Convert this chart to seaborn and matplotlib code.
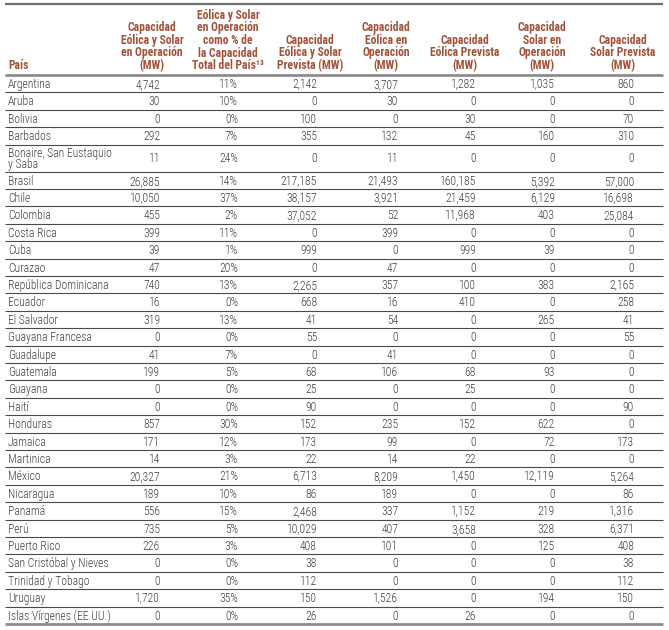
import matplotlib
matplotlib.use("Agg")
import matplotlib.pyplot as plt
from matplotlib import font_manager
import seaborn as sns
import pandas as pd

paises = ["Argentina", "Aruba", "Bolivia", "Barbados", "Bonaire, San Eustaquio\ny Saba",
          "Brasil", "Chile", "Colombia", "Costa Rica", "Cuba", "Curazao",
          "República Dominicana", "Ecuador", "El Salvador", "Guayana Francesa",
          "Guadalupe", "Guatemala", "Guayana", "Haití", "Honduras", "Jamaica",
          "Martinica", "México", "Nicaragua", "Panamá", "Perú", "Puerto Rico",
          "San Cristóbal y Nieves", "Trinidad y Tobago", "Uruguay",
          "Islas Vírgenes (EE.UU.)"]
eol_sol_op = [4742, 30, 0, 292, 11, 26885, 10050, 455, 399, 39, 47, 740, 16, 319, 0,
              41, 199, 0, 0, 857, 171, 14, 20327, 189, 556, 735, 226, 0, 0, 1720, 0]
pct_total = [11, 10, 0, 7, 24, 14, 37, 2, 11, 1, 20, 13, 0, 13, 0,
             7, 5, 0, 0, 30, 12, 3, 21, 10, 15, 5, 3, 0, 0, 35, 0]
eol_sol_prev = [2142, 0, 100, 355, 0, 217185, 38157, 37052, 0, 999, 0, 2265, 668, 41, 55,
                0, 68, 25, 90, 152, 173, 22, 6713, 86, 2468, 10029, 408, 38, 112, 150, 26]
eol_op = [3707, 30, 0, 132, 11, 21493, 3921, 52, 399, 0, 47, 357, 16, 54, 0,
          41, 106, 0, 0, 235, 99, 14, 8209, 189, 337, 407, 101, 0, 0, 1526, 0]
eol_prev = [1282, 0, 30, 45, 0, 160185, 21459, 11968, 0, 999, 0, 100, 410, 0, 0,
            0, 68, 25, 0, 152, 0, 22, 1450, 0, 1152, 3658, 0, 0, 0, 0, 26]
sol_op = [1035, 0, 0, 160, 0, 5392, 6129, 403, 0, 39, 0, 383, 0, 265, 0,
          0, 93, 0, 0, 622, 72, 0, 12119, 0, 219, 328, 125, 0, 0, 194, 0]
sol_prev = [860, 0, 70, 310, 0, 57000, 16698, 25084, 0, 0, 0, 2165, 258, 41, 55,
            0, 0, 0, 90, 0, 173, 0, 5264, 86, 1316, 6371, 408, 38, 112, 150, 0]

encabezados = ["Capacidad\nEólica y Solar\nen Operación\n(MW)",
               "Eólica y Solar\nen Operación\ncomo % de\nla Capacidad\nTotal del País¹³",
               "Capacidad\nEólica y Solar\nPrevista (MW)",
               "Capacidad\nEólica en\nOperación\n(MW)",
               "Capacidad\nEólica Prevista\n(MW)",
               "Capacidad\nSolar en\nOperación\n(MW)",
               "Capacidad\nSolar Prevista\n(MW)"]

df = pd.DataFrame({"pais": paises, "c1": eol_sol_op, "c2": pct_total, "c3": eol_sol_prev,
                   "c4": eol_op, "c5": eol_prev, "c6": sol_op, "c7": sol_prev})

sns.set_theme(style="white")
disponibles = {f.name for f in font_manager.fontManager.ttflist}
fuente = "DejaVu Sans"
for cand in ["Roboto Condensed", "Liberation Sans Narrow", "Open Sans Condensed", "Roboto"]:
    if cand in disponibles:
        fuente = cand
        break
plt.rcParams["font.family"] = [fuente, "DejaVu Sans"]
tam = 8.4 if "Condensed" in fuente or "Narrow" in fuente else 7.0

rojo = "#a4533b"
gris_texto = "#404040"

# layout (pixels)
x_izq, x_der = 5, 663
x_num = [160, 238, 317, 398, 476, 555, 634]
x_enc = [152, 228, 310, 386, 465, 542, 623]
alto = [27 if "\n" in p else 17.4 for p in paises]

fig = plt.figure(figsize=(6.69, 6.30), dpi=100)
ax = fig.add_axes([0, 0, 1, 1])
ax.set_xlim(0, 669)
ax.set_ylim(630, 0)
ax.axis("off")

# header
ax.text(8, 72, "País", ha="left", va="bottom", fontsize=tam, color=rojo, fontweight="bold")
for xe, t in zip(x_enc, encabezados):
    ax.text(xe, 72, t, ha="center", va="bottom", fontsize=tam, color=rojo,
            fontweight="bold", multialignment="center", linespacing=0.95)

ax.hlines(3.5, x_izq, x_der, color="#707070", lw=1.6)
ax.hlines(75, x_izq, x_der, color="#8c8c8c", lw=2)

y = 75
cols = ["c1", "c2", "c3", "c4", "c5", "c6", "c7"]
for i, fila in df.iterrows():
    h = alto[i]
    yc = y + h / 2 + 0.8
    ax.text(8, yc, fila["pais"], ha="left", va="center", fontsize=tam, color=gris_texto,
            linespacing=0.88, fontweight="light")
    for j, c in enumerate(cols):
        v = fila[c]
        s = f"{v}%" if c == "c2" else f"{v:,}"
        ax.text(x_num[j], yc, s, ha="right", va="center", fontsize=tam, color=gris_texto,
                fontweight="light")
    y += h
    if i < len(df) - 1:
        ax.hlines(y, x_izq, x_der, color="#4a4a4a", lw=0.8)

ax.hlines(y, x_izq, x_der, color="#8c8c8c", lw=2)

fig.savefig("out.png", dpi=100, facecolor="white")
